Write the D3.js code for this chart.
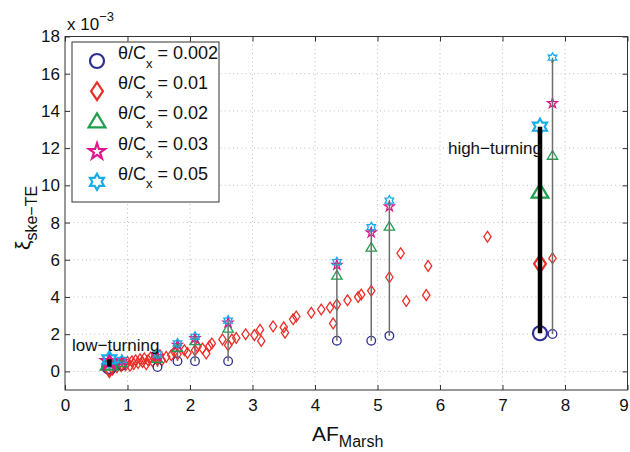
<!DOCTYPE html>
<html><head><meta charset="utf-8">
<script src="https://cdn.jsdelivr.net/npm/d3@7"></script>
<style>
body{margin:0;background:#fff}
svg{display:block}
text{font-family:"Liberation Sans",Arial,Helvetica,sans-serif;fill:#111}
</style>
</head><body>
<svg id="c" width="630" height="452"></svg>
<script>
// ---- data ----
const caseAF   = [0.71, 0.91, 1.48, 1.80, 2.08, 2.61, 4.35, 4.90, 5.19, 7.60, 7.80];
const caseType = ["low-turning","","","","","","","","","high-turning",""];
const xi_0002  = [0.25, 0.30, 0.23, 0.55, 0.55, 0.55, 1.65, 1.65, 1.91, 2.05, 2.01];
const xi_001   = [0.18, 0.35, 0.60, 0.92, 1.14, 1.41, 3.59, 4.33, 5.06, 5.78, 6.08];
const xi_002   = [0.42, 0.45, 0.68, 1.28, 1.63, 2.31, 5.16, 6.66, 7.79, 9.66, 11.60];
const xi_003   = [0.52, 0.55, 0.82, 1.42, 1.78, 2.62, 5.72, 7.46, 8.86, null, 14.41];
const xi_005   = [0.65, 0.62, 0.92, 1.50, 1.86, 2.73, 5.87, 7.75, 9.18, 13.15, 16.86];
const extraAF_001 = [0.76,0.79,0.83,0.86,0.90,0.94,0.97,1.00,1.04,1.07,1.10,1.13,1.17,1.20,1.24,1.27,1.30,1.33,1.37,1.40,1.44,1.52,1.55,1.62,1.70,1.75,1.91,1.96,2.12,2.20,2.26,2.31,2.35,2.52,2.67,2.74,2.89,3.03,3.12,3.14,3.33,3.50,3.52,3.65,3.70,3.94,4.10,4.24,4.29,4.52,4.69,4.74,5.37,5.46,5.78,5.81,6.76];
const extraXi_001 = [0.10,0.35,0.22,0.40,0.28,0.45,0.33,0.50,0.30,0.55,0.40,0.60,0.45,0.65,0.50,0.70,0.38,0.60,0.75,0.55,0.80,0.87,0.60,0.78,0.87,1.05,1.14,0.99,1.32,1.23,0.96,1.36,1.50,1.72,1.72,1.80,2.00,1.95,2.24,1.64,2.42,2.37,2.08,2.80,2.95,3.15,3.33,3.43,2.58,3.82,4.00,4.13,6.35,3.78,4.10,5.67,7.24];
const seriesTheta = ["0.002","0.01","0.02","0.03","0.05"];
const xTicks = [0,1,2,3,4,5,6,7,8,9];
const yTicks = [0,2,4,6,8,10,12,14,16,18];

// ---- layout / style ----
const W = 630, H = 452;
const x = d3.scaleLinear().domain([0, 9]).range([65, 627.5]);
const y = d3.scaleLinear().domain([-1, 18]).range([390, 36.5]);
const shapes = ["circle","diamond","triangle","pentagram","hexagram"];
const colors = ["#2f2f92","#ec2e28","#1d9f4b","#e0178c","#19aceb"];
const seriesVals = [xi_0002, xi_001, xi_002, xi_003, xi_005];

function markerPath(type, s){
  const p = d3.path();
  if(type==="circle"){ p.moveTo(s,0); p.arc(0,0,s,0,2*Math.PI); p.closePath(); return p.toString(); }
  let pts = [];
  if(type==="diamond"){ pts=[[0,-1.25*s],[0.85*s,0],[0,1.25*s],[-0.85*s,0]]; }
  else if(type==="triangle"){ pts=[[0,-1.15*s],[1.2*s,0.85*s],[-1.2*s,0.85*s]]; }
  else if(type==="pentagram"){
    const R=1.2*s, r=R*0.382;
    for(let i=0;i<10;i++){ const a=-Math.PI/2+i*Math.PI/5; const rr=i%2?r:R; pts.push([rr*Math.cos(a), rr*Math.sin(a)]); }
  } else if(type==="hexagram"){
    const R=1.15*s, r=R/Math.sqrt(3);
    for(let i=0;i<12;i++){ const a=-Math.PI/2+i*Math.PI/6; const rr=i%2?r:R; pts.push([rr*Math.cos(a), rr*Math.sin(a)]); }
  }
  pts.forEach((q,i)=> i? p.lineTo(q[0],q[1]) : p.moveTo(q[0],q[1]));
  p.closePath();
  return p.toString();
}

const svg = d3.select("#c");
svg.append("rect").attr("width",W).attr("height",H).attr("fill","#fff");

// grid
const grid = svg.append("g").attr("stroke","#bdbdbd").attr("stroke-width",1).attr("stroke-dasharray","1,3.2");
xTicks.forEach(t=>{ if(t>0 && t<9) grid.append("line").attr("x1",x(t)).attr("x2",x(t)).attr("y1",y(-1)).attr("y2",y(18)); });
yTicks.forEach(t=>{ grid.append("line").attr("x1",x(0)).attr("x2",x(9)).attr("y1",y(t)).attr("y2",y(t)); });

// axes
const fmt = d3.format("d");
const gB = svg.append("g").attr("transform",`translate(0,${y(-1)})`)
  .call(d3.axisBottom(x).tickValues(xTicks).tickFormat(fmt).tickSizeInner(-5).tickSizeOuter(0).tickPadding(9));
const gL = svg.append("g").attr("transform",`translate(${x(0)},0)`)
  .call(d3.axisLeft(y).tickValues(yTicks).tickFormat(fmt).tickSizeInner(-5).tickSizeOuter(0).tickPadding(5));
const gT = svg.append("g").attr("transform",`translate(0,${y(18)})`)
  .call(d3.axisTop(x).tickValues(xTicks).tickFormat("").tickSizeInner(-5).tickSizeOuter(0));
const gR = svg.append("g").attr("transform",`translate(${x(9)},0)`)
  .call(d3.axisRight(y).tickValues(yTicks).tickFormat("").tickSizeInner(-5).tickSizeOuter(0));
[gB,gL,gT,gR].forEach(g=>{
  g.select(".domain").remove();
  g.selectAll(".tick line").attr("stroke","#333");
  g.selectAll("text").attr("font-size",17).attr("fill","#111").style("font-family","Liberation Sans, Arial, sans-serif");
});
gB.selectAll(".tick text").filter(d=>d===9).attr("dx",-4);
svg.append("rect").attr("x",x(0)).attr("y",y(18)).attr("width",x(9)-x(0)).attr("height",y(-1)-y(18))
  .attr("fill","none").attr("stroke","#333").attr("stroke-width",1);

// data markers
const plot = svg.append("g");
extraAF_001.forEach((a,i)=>{
  plot.append("path").attr("d",markerPath("diamond",4.3))
    .attr("transform",`translate(${x(a)},${y(extraXi_001[i])})`)
    .attr("fill","none").attr("stroke",colors[1]).attr("stroke-width",1.3);
});
seriesVals.forEach((vals,si)=>{
  vals.forEach((v,i)=>{
    if(v===null) return;
    const big = caseType[i]!=="";
    plot.append("path").attr("d",markerPath(shapes[si], big?7:4.3))
      .attr("transform",`translate(${x(caseAF[i])},${y(v)})`)
      .attr("fill","none").attr("stroke",colors[si]).attr("stroke-width",big?2.2:1.3);
  });
});
caseAF.forEach((a,i)=>{
  const big = caseType[i]!=="";
  plot.append("line").attr("x1",x(a)).attr("x2",x(a))
    .attr("y1",y(xi_0002[i])).attr("y2",y(xi_005[i]))
    .attr("stroke",big?"#000":"#6d6d6d").attr("stroke-width",big?4.5:1.5);
});

// annotations
const iHigh = caseType.indexOf("high-turning");
svg.append("text").attr("x",72).attr("y",351).attr("font-size",17).text("low\u2212turning");
svg.append("text").attr("x",x(caseAF[iHigh])+2).attr("y",154).attr("text-anchor","end").attr("font-size",17).text("high\u2212turning");

// exponent
const ex = svg.append("text").attr("x",67).attr("y",30).attr("font-size",17);
ex.append("tspan").text("x 10");
ex.append("tspan").attr("dy",-9).attr("font-size",13).text("\u22123");

// axis labels
const xl = svg.append("text").attr("x",312).attr("y",441).attr("font-size",21);
xl.append("tspan").text("AF");
xl.append("tspan").attr("dy",6).attr("font-size",16).text("Marsh");
const yl = svg.append("text").attr("transform","translate(30,250) rotate(-90)").attr("font-size",21);
yl.append("tspan").text("\u03be");
yl.append("tspan").attr("dy",7).attr("font-size",16).text("ske\u2212TE");

// legend
const lg = svg.append("g");
lg.append("rect").attr("x",72).attr("y",42).attr("width",147).attr("height",160)
  .attr("fill","#fff").attr("stroke","#333").attr("stroke-width",1);
seriesTheta.forEach((t,i)=>{
  const cy = 61 + i*30.2;
  lg.append("path").attr("d",markerPath(shapes[i],7)).attr("transform",`translate(97,${cy})`)
    .attr("fill","none").attr("stroke",colors[i]).attr("stroke-width",2.2);
  const tx = lg.append("text").attr("x",118).attr("y",cy-2).attr("font-size",18);
  tx.append("tspan").text("\u03b8/C");
  tx.append("tspan").attr("dy",8.5).attr("font-size",13).text("x");
  tx.append("tspan").attr("dy",-8.5).text(" = " + t);
});
</script>
</body></html>
